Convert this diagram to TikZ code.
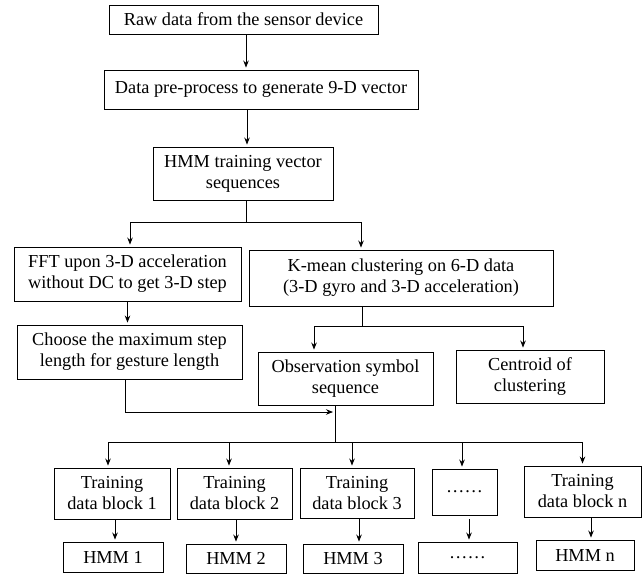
\documentclass[tikz,border=0pt]{standalone}
\usepackage{fontspec}
\setmainfont{Liberation Serif}
\usetikzlibrary{arrows.meta}
\begin{document}
\begin{tikzpicture}[x=1pt,y=-1pt,
  box/.style={draw, line width=0.9pt, inner sep=0pt, align=center,
    font=\fontsize{18.3}{21}\selectfont},
  arr/.style={line width=0.9pt, -{Stealth[length=7pt,width=5.5pt]}, shorten >=2pt},
  ln/.style={line width=0.9pt}]
\useasboundingbox (0,0) rectangle (644,573);

\node[box, minimum width=269pt, minimum height=29pt] (raw) at (243.5,19.5) {Raw data from the sensor device};
\node[box, minimum width=314pt, minimum height=39pt] (pre) at (261,89.5) {Data pre-process to generate 9-D vector};
\node[box, minimum width=180pt, minimum height=53pt] (hmmtv) at (243,173.5) {HMM training vector\\sequences};
\node[box, minimum width=227pt, minimum height=54pt] (fft) at (127.5,274) {FFT upon 3-D acceleration\\without DC to get 3-D step};
\node[box, minimum width=304pt, minimum height=56pt] (km) at (401,278) {K-mean clustering on 6-D data\\(3-D gyro and 3-D acceleration)};
\node[box, minimum width=225pt, minimum height=54pt] (choose) at (129.5,352) {Choose the maximum step\\length for gesture length};
\node[box, minimum width=175pt, minimum height=53pt] (obs) at (345.5,378.5) {Observation symbol\\sequence};
\node[box, minimum width=148pt, minimum height=53pt] (cen) at (530,376.5) {Centroid of\\clustering};

\node[box, minimum width=116pt, minimum height=51pt] (b1) at (112,493.5) {Training\\data block 1};
\node[box, minimum width=115pt, minimum height=51pt] (b2) at (234.5,493.5) {Training\\data block 2};
\node[box, minimum width=114pt, minimum height=50pt] (b3) at (357,493) {Training\\data block 3};
\node[box, minimum width=65pt, minimum height=46pt] (b4) at (464.5,492) {……};
\node[box, minimum width=117pt, minimum height=51pt] (bn) at (582.5,491.5) {Training\\data block n};

\node[box, minimum width=100pt, minimum height=30pt] (h1) at (113,557) {HMM 1};
\node[box, minimum width=100pt, minimum height=29pt] (h2) at (236,558.5) {HMM 2};
\node[box, minimum width=100pt, minimum height=29pt] (h3) at (353,558.5) {HMM 3};
\node[box, minimum width=99pt, minimum height=31pt] (h4) at (467.5,557.5) {……};
\node[box, minimum width=98pt, minimum height=30pt] (hn) at (585,555) {HMM n};

% top chain
\coordinate (a1) at ([xshift=2.5pt]raw.south);
\draw[arr] (a1) -- (a1 |- pre.north);
\coordinate (a2) at ([xshift=4pt]hmmtv.north);
\draw[arr] (a2 |- pre.south) -- (a2);

% first split
\coordinate (s1) at ([xshift=3pt]hmmtv.south);
\coordinate (s1b) at (246,222);
\draw[ln] (s1) -- (s1b);
\coordinate (f1) at ([xshift=2.5pt]fft.north);
\coordinate (k1) at ([xshift=-40pt]km.north);
\draw[arr] (s1b) -| (f1);
\draw[arr] (s1b) -| (k1);
\draw[arr] (fft.south) -- (fft.south |- choose.north);

% second split
\coordinate (s2) at (362,326);
\draw[ln] (s2 |- km.south) -- (s2);
\coordinate (o1) at ([xshift=-31.5pt]obs.north);
\coordinate (c1) at ([xshift=-7pt]cen.north);
\draw[arr] (s2) -| (o1);
\draw[arr] (s2) -| (c1);

% merge
\coordinate (s3) at (335,442);
\coordinate (j) at (335,412);
\draw[ln] (s3 |- obs.south) -- (s3);
\coordinate (ch1) at ([xshift=-4.5pt]choose.south);
\draw[arr] (ch1) |- (j);

% fan out to blocks
\coordinate (t1) at ([xshift=-4pt]b1.north);
\coordinate (t2) at ([xshift=-5.5pt]b2.north);
\coordinate (t3) at ([xshift=-5pt]b3.north);
\coordinate (t4) at ([xshift=-2.5pt]b4.north);
\coordinate (t5) at (bn.north);
\draw[ln] (s3 -| t1) -- (s3 -| t5);
\foreach \t in {t1,t2,t3,t4,t5} \draw[arr] (s3 -| \t) -- (\t);

% blocks to HMMs
\coordinate (d1) at ([xshift=3pt]b1.south);
\coordinate (d2) at ([xshift=1.5pt]b2.south);
\coordinate (d3) at ([xshift=2pt]b3.south);
\coordinate (d4) at ([xshift=4.5pt,yshift=-4pt]b4.south);
\coordinate (d5) at ([xshift=8.5pt]bn.south);
\draw[arr] (d1) -- (d1 |- h1.north);
\draw[arr] (d2) -- (d2 |- h2.north);
\draw[arr] (d3) -- (d3 |- h3.north);
\draw[arr] (d4) -- (d4 |- h4.north);
\draw[arr] (d5) -- (d5 |- hn.north);
\end{tikzpicture}
\end{document}
